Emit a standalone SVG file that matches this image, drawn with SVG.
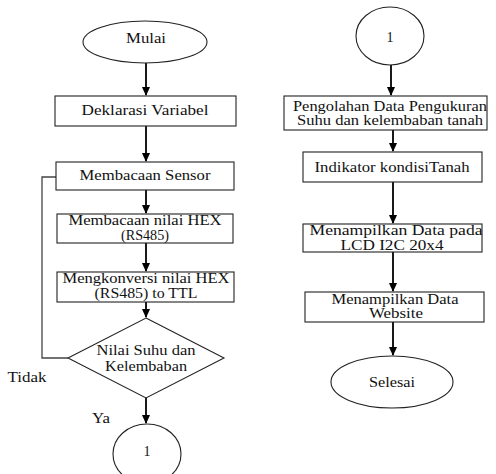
<svg xmlns="http://www.w3.org/2000/svg" width="496" height="474" viewBox="0 0 496 474">
<style>
.s{fill:#fff;stroke:#222;stroke-width:1.1}
.c{stroke:#000;stroke-width:1.8;fill:none}
.g{stroke:#444;stroke-width:1.3;fill:none}
</style>
<defs>
<marker id="ah" markerWidth="10" markerHeight="10" refX="8" refY="4" orient="auto" markerUnits="userSpaceOnUse">
<path d="M0,0 L9,4 L0,8 Z" fill="#000"/>
</marker>
</defs>
<rect width="496" height="474" fill="#fff"/>
<g id="connectors">
<line class="c" x1="146" y1="63" x2="146" y2="95" marker-end="url(#ah)"/>
<line class="c" x1="146" y1="126" x2="146" y2="161" marker-end="url(#ah)"/>
<line class="c" x1="146" y1="190" x2="146" y2="213" marker-end="url(#ah)"/>
<line class="c" x1="146" y1="243" x2="146" y2="271" marker-end="url(#ah)"/>
<line class="c" x1="146" y1="302" x2="146" y2="317" marker-end="url(#ah)"/>
<line class="c" x1="146" y1="398" x2="146" y2="423" marker-end="url(#ah)"/>
<polyline class="g" points="68,358 42,358 42,177 56,177"/>
<line class="c" x1="391" y1="65" x2="391" y2="95" marker-end="url(#ah)"/>
<line class="c" x1="393" y1="130" x2="393" y2="151" marker-end="url(#ah)"/>
<line class="c" x1="393" y1="182" x2="393" y2="223" marker-end="url(#ah)"/>
<line class="c" x1="393" y1="252" x2="393" y2="291" marker-end="url(#ah)"/>
<line class="c" x1="393" y1="322" x2="393" y2="355" marker-end="url(#ah)"/>
</g>
<g font-family="Liberation Serif, DejaVu Serif, serif" font-size="14" fill="#111" text-anchor="middle" lengthAdjust="spacingAndGlyphs">
<g id="mulai"><ellipse class="s" cx="145" cy="42" rx="62" ry="21"/><text x="146" y="43" textLength="40" lengthAdjust="spacingAndGlyphs">Mulai</text></g>
<g id="deklarasi"><rect class="s" x="55" y="96" width="181" height="30"/><text x="145" y="115" textLength="127" lengthAdjust="spacingAndGlyphs">Deklarasi Variabel</text></g>
<g id="sensor"><rect class="s" x="56" y="162" width="178" height="28"/><text x="145" y="180" textLength="131" lengthAdjust="spacingAndGlyphs">Membacaan Sensor</text></g>
<g id="hex"><rect class="s" x="57" y="214" width="176" height="29"/><text x="145" y="225" textLength="153" lengthAdjust="spacingAndGlyphs">Membacaan nilai HEX</text><text x="145" y="240" textLength="48" lengthAdjust="spacingAndGlyphs">(RS485)</text></g>
<g id="konversi"><rect class="s" x="57" y="272" width="177" height="30"/><text x="146" y="283" textLength="167" lengthAdjust="spacingAndGlyphs">Mengkonversi nilai HEX</text><text x="146" y="298" textLength="103" lengthAdjust="spacingAndGlyphs">(RS485) to TTL</text></g>
<g id="keputusan"><polygon class="s" points="146,318 224,358 146,398 68,358"/><text x="146" y="355" textLength="99" lengthAdjust="spacingAndGlyphs">Nilai Suhu dan</text><text x="146" y="371" textLength="82" lengthAdjust="spacingAndGlyphs">Kelembaban</text></g>
<g id="label-tidak"><text x="27" y="382" textLength="39" lengthAdjust="spacingAndGlyphs">Tidak</text></g>
<g id="label-ya"><text x="101" y="423" textLength="18" lengthAdjust="spacingAndGlyphs">Ya</text></g>
<g id="konektor-bawah"><ellipse class="s" cx="147" cy="454" rx="34" ry="30"/><text x="147" y="456">1</text></g>
<g id="konektor-atas"><ellipse class="s" cx="390" cy="36" rx="34" ry="29"/><text x="390" y="42">1</text></g>
<g id="pengolahan"><rect class="s" x="284" y="96" width="203" height="34"/><text x="390" y="111" textLength="194" lengthAdjust="spacingAndGlyphs">Pengolahan Data Pengukuran</text><text x="390" y="125" textLength="186" lengthAdjust="spacingAndGlyphs">Suhu dan kelembaban tanah</text></g>
<g id="indikator"><rect class="s" x="303" y="152" width="179" height="30"/><text x="392" y="172" textLength="155" lengthAdjust="spacingAndGlyphs">Indikator kondisiTanah</text></g>
<g id="lcd"><rect class="s" x="303" y="224" width="179" height="28"/><text x="396" y="235" textLength="173" lengthAdjust="spacingAndGlyphs">Menampilkan Data pada</text><text x="392" y="250" textLength="103" lengthAdjust="spacingAndGlyphs">LCD I2C 20x4</text></g>
<g id="website"><rect class="s" x="305" y="292" width="179" height="30"/><text x="395" y="304" textLength="127" lengthAdjust="spacingAndGlyphs">Menampilkan Data</text><text x="396" y="318" textLength="54" lengthAdjust="spacingAndGlyphs">Website</text></g>
<g id="selesai"><ellipse class="s" cx="392" cy="382" rx="61" ry="26"/><text x="392" y="387" textLength="46" lengthAdjust="spacingAndGlyphs">Selesai</text></g>
</g>
</svg>
